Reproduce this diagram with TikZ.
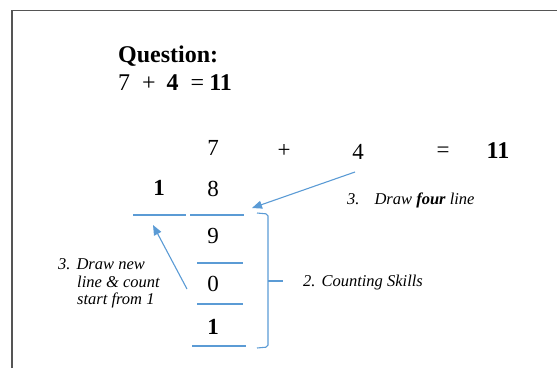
\documentclass[tikz,border=0pt]{standalone}
\usepackage{fontspec}
\setmainfont{Liberation Serif}
\usetikzlibrary{arrows.meta}
\definecolor{lblue}{RGB}{91,155,213}
\definecolor{framegray}{RGB}{85,85,85}
\begin{document}
\begin{tikzpicture}[x=1pt,y=-1pt,
  txt/.style={inner sep=0pt, anchor=base},
  big/.style={txt, font=\fontsize{23}{27}\selectfont},
  bigl/.style={txt, anchor=base west, font=\fontsize{24}{28}\selectfont},
  lab/.style={txt, anchor=base west, font=\fontsize{16.5}{18}\selectfont\itshape},
  rule/.style={draw=lblue, line width=1.1pt},
  arr/.style={draw=lblue, line width=1.1pt, -{Triangle[length=10pt,width=8pt]}}
]
\useasboundingbox (0,0) rectangle (557,368);
% frame
\draw[framegray, line width=1.4pt] (12,368) -- (12,10.7) -- (557,10.7);

% question
\node[bigl, font=\fontsize{24}{28}\selectfont\bfseries] (q) at (118,62) {Question:};
\node[bigl] (eq) at (118,90) {7\hspace{12pt}+\hspace{11pt}\textbf{4}\hspace{12pt}=\hspace{5pt}\textbf{11}};

% main row
\node[big] (n7) at (213,155) {7};
\node[big] (plus) at (284,157) {+};
\node[big] (n4) at (358,159) {4};
\node[big] (eqs) at (443,157) {=};
\node[big, font=\fontsize{24}{28}\selectfont\bfseries] (n11) at (498,158) {11};

% column
\node[big, font=\fontsize{23}{27}\selectfont\bfseries] (c1) at (159,195) {1};
\node[big] (c8) at (213,196) {8};
\node[big] (c9) at (213,243) {9};
\node[big] (c0) at (213,291) {0};
\node[big, font=\fontsize{23}{27}\selectfont\bfseries] (c1b) at (213,334) {1};

% lines
\coordinate (l1a) at (133,215); \coordinate (l1b) at (186,215);
\coordinate (l2a) at (190,215); \coordinate (l2b) at (244,215);
\coordinate (l3a) at (197,263); \coordinate (l3b) at (243,263);
\coordinate (l4a) at (197,304); \coordinate (l4b) at (243,304);
\coordinate (l5a) at (192,346); \coordinate (l5b) at (246,346);
\draw[rule] (l1a) -- (l1b);
\draw[rule] (l2a) -- (l2b);
\draw[rule] (l3a) -- (l3b);
\draw[rule] (l4a) -- (l4b);
\draw[rule] (l5a) -- (l5b);

% bracket
\coordinate (bt) at (257,213);
\coordinate (bb) at (257,348);
\coordinate (bm) at (283,281);
\draw[rule, rounded corners=2pt] (bt) -- (268,214) -- (268,347) -- (bb);
\draw[rule] (268,281) -- (bm);

% labels
\node[lab] (lfour) at (347,204) {3.\hspace{15pt}Draw \textbf{four} line};
\node[lab] (lcount) at (303,286) {2.\hspace{6pt}Counting Skills};
\node[lab] (lnew1) at (58,269) {3.\hspace{6pt}Draw new};
\node[lab] (lnew2) at (77,287) {line \& count};
\node[lab] (lnew3) at (77,304) {start from 1};

% arrows
\coordinate (a1s) at (355,172);
\coordinate (a1e) at (252,208);
\draw[arr] (a1s) -- (a1e);
\coordinate (a2s) at (187,289);
\coordinate (a2e) at (153,225);
\draw[arr] (a2s) -- (a2e);
\end{tikzpicture}
\end{document}
